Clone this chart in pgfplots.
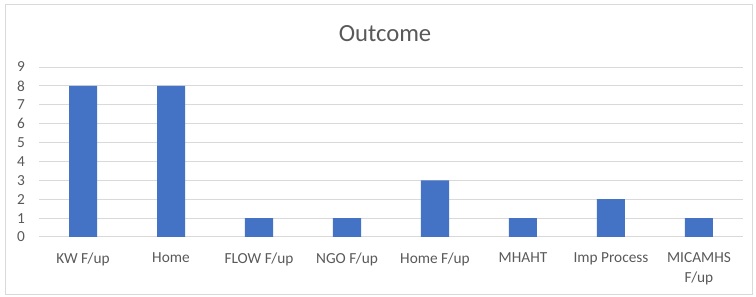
\documentclass[border=0pt]{standalone}
\usepackage{pgfplots}
\pgfplotsset{compat=1.18}
\usepackage{fontspec}
\setmainfont{Carlito}
\definecolor{barblue}{RGB}{68,114,196}
\definecolor{txtgray}{RGB}{89,89,89}
\definecolor{gridgray}{RGB}{217,217,217}
\definecolor{bordergray}{RGB}{217,217,217}
\begin{document}
\begin{tikzpicture}
\useasboundingbox (0,0) rectangle (567pt,222pt);
\draw[bordergray, line width=0.75pt] (3.75pt,1.5pt) rectangle (564pt,218.25pt);
\node[txtgray, font=\fontsize{18.5}{20}\selectfont] at (288.75pt,197pt) {Outcome};
\begin{axis}[
  at={(29.25pt,44.25pt)}, anchor=south west,
  scale only axis, width=528pt, height=127.5pt,
  xmin=-0.5, xmax=7.5, ymin=0, ymax=9,
  ytick={0,...,9},
  xtick={0,...,7},
  xticklabels={KW F/up, Home, FLOW F/up, NGO F/up, Home F/up, MHAHT, Imp Process, {MICAMHS\\F/up}},
  xticklabel style={align=center, font=\fontsize{11.5}{15}\selectfont, text=txtgray, yshift=-8pt},
  yticklabel style={font=\fontsize{11.5}{13}\selectfont, text=txtgray, xshift=-7pt},
  /pgf/number format/assume math mode=true,
  axis line style={draw=none},
  axis x line*=bottom,
  ymajorgrids, grid style={gridgray, line width=0.75pt},
  major tick length=0pt,
  every tick/.style={draw=none},
  ybar, bar width=21pt,
  clip=false,
]
\addplot[fill=barblue, draw=none] coordinates {(0,8) (1,8) (2,1) (3,1) (4,3) (5,1) (6,2) (7,1)};
\end{axis}
\end{tikzpicture}
\end{document}
